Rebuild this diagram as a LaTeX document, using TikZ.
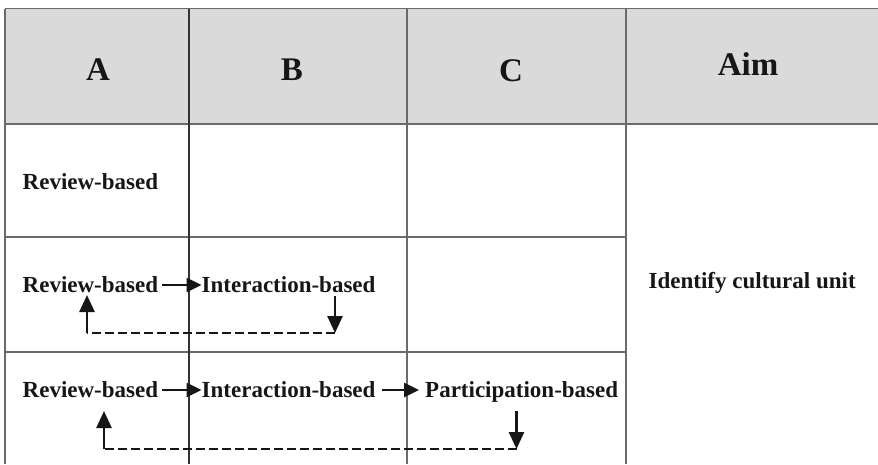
\documentclass[tikz,border=0pt]{standalone}
\usepackage{fontspec}
\setmainfont{Liberation Serif}
\usetikzlibrary{arrows.meta}
\definecolor{hdrfill}{HTML}{DADADA}
\definecolor{gridc}{HTML}{6A6A6A}
\definecolor{inkc}{HTML}{161616}
\tikzset{
  grid line/.style={draw=gridc, line width=1.5pt},
  strong line/.style={draw=black!80, line width=2.1pt},
  hdr/.style={font=\fontsize{33}{36}\selectfont\bfseries, text=inkc, inner sep=0pt, anchor=base},
  lbl/.style={font=\fontsize{23}{26}\selectfont\bfseries, text=inkc, inner sep=0pt, anchor=base west},
  flow/.style={draw=inkc, line width=2.6pt, -{Triangle[length=15pt 0,width=14pt 0]}},
  vflow/.style={draw=inkc, line width=2.5pt, -{Triangle[length=17pt 0,width=15pt 0]}},
  back/.style={draw=inkc, line width=2pt, dash pattern=on 9pt off 4pt},
}
\begin{document}
\begin{tikzpicture}[x=1pt,y=-1pt]
\useasboundingbox (0,0) rectangle (878,464);
% header band
\fill[hdrfill] (5,8.5) rectangle (878,124);
% grid
\draw[grid line] (5,8.5) -- (878,8.5);
\draw[grid line] (5,124) -- (878,124);
\draw[grid line] (5,237) -- (626,237);
\draw[grid line] (5,352) -- (626,352);
\draw[grid line] (5,8.5) -- (5,464);
\draw[grid line] (407,8.5) -- (407,464);
\draw[grid line] (626,8.5) -- (626,464);
\draw[strong line] (189,8.5) -- (189,464);
% headers
\node[hdr] (hA) at (98,80) {A};
\node[hdr] (hB) at (292,80) {B};
\node[hdr] (hC) at (511,81) {C};
\node[hdr] (hAim) at (748,75) {Aim};
% row 1
\node[lbl] (r1a) at (22.5,189) {Review-based};
% row 2
\node[lbl] (r2a) at (22.5,292) {Review-based};
\node[lbl] (r2b) at (201.5,292) {Interaction-based};
% row 3
\node[lbl] (r3a) at (22.5,397) {Review-based};
\node[lbl] (r3b) at (201.5,397) {Interaction-based};
\node[lbl] (r3c) at (425,397) {Participation-based};
% aim
\node[lbl] (aim) at (648.5,288) {Identify cultural unit};
% forward arrows
\draw[flow] ([xshift=4pt,yshift=7pt]r2a.base east) -- ([yshift=7pt]r2b.base west);
\draw[flow] ([xshift=4pt,yshift=7pt]r3a.base east) -- ([yshift=7pt]r3b.base west);
\draw[flow] ([xshift=6pt,yshift=7pt]r3b.base east) -- ([xshift=-6pt,yshift=7pt]r3c.base west);
% feedback row 2
\coordinate (f2d0) at (335,296);
\coordinate (f2d1) at (335,333);
\coordinate (f2u1) at (87,333);
\coordinate (f2u0) at (87,295);
\draw[vflow] (f2d0) -- (f2d1);
\draw[back] (f2d1) -- (f2u1);
\draw[vflow] (f2u1) -- (f2u0);
% feedback row 3
\coordinate (f3d0) at (516.5,411);
\coordinate (f3d1) at (516.5,449);
\coordinate (f3u1) at (104,449);
\coordinate (f3u0) at (104,411);
\draw[vflow] (f3d0) -- (f3d1);
\draw[back] (f3d1) -- (f3u1);
\draw[vflow] (f3u1) -- (f3u0);
\end{tikzpicture}
\end{document}
